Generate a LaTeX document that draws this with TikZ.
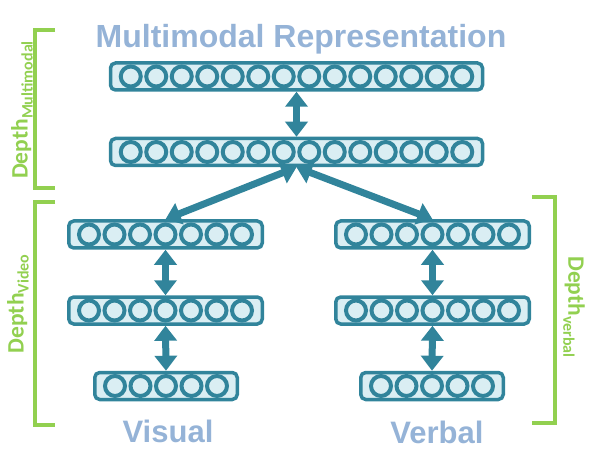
\documentclass[tikz,border=0pt]{standalone}
\usepackage{fontspec}
\setmainfont{Liberation Sans}
\newfontfamily\calfont{Carlito}
\usetikzlibrary{arrows.meta}
\definecolor{tealc}{RGB}{49,132,155}
\definecolor{fillc}{RGB}{218,238,243}
\definecolor{titlec}{RGB}{149,179,215}
\definecolor{greenc}{RGB}{146,208,80}
\tikzset{
  layerbox/.style={draw=tealc, fill=fillc, line width=3.5pt, rounded corners=5pt, minimum height=27pt, inner sep=0pt},
  unitc/.style={draw=tealc, fill=fillc, line width=4pt, circle, minimum size=20pt, inner sep=0pt},
  biarrow/.style={draw=tealc, line width=7pt, {Triangle[length=15pt,width=22pt]}-{Triangle[length=15pt,width=22pt]}},
  bracketline/.style={draw=greenc, line width=4.5pt},
  titletext/.style={font=\fontsize{31}{31}\selectfont\bfseries, text=titlec, inner sep=0pt},
  depthlab/.style={text=greenc, font=\calfont\bfseries, inner sep=0pt},
}
\newcommand\mklayer[4]{%
  \node[layerbox, minimum width={#4*25.5+15}] (#1) at (#2,#3) {};
  \foreach \i in {1,...,#4} {\node[unitc] (#1-\i) at ({#2-(#4)*12.75+(\i-0.5)*25.5},#3) {};}
}
\newcommand\depthtext[1]{\fontsize{23.5}{23.5}\selectfont Depth\raisebox{-5pt}{\fontsize{16}{16}\selectfont #1}}
\begin{document}
\begin{tikzpicture}[x=1pt,y=-1pt]
\useasboundingbox (0,0) rectangle (589,465);
% layers
\mklayer{M1}{296.5}{76.5}{14}
\mklayer{M2}{296.5}{152}{14}
\mklayer{V1}{165.5}{234.5}{7}
\mklayer{V2}{165.5}{310.5}{7}
\mklayer{V3}{166}{386}{5}
\mklayer{B1}{432.5}{234.5}{7}
\mklayer{B2}{432.5}{310.5}{7}
\mklayer{B3}{432}{386}{5}
% arrows
\draw[biarrow] (M1.south) -- (M2.north);
\draw[biarrow] (M2.south) -- (V1.north);
\draw[biarrow] (M2.south) -- (B1.north);
\draw[biarrow] (V1.south) -- (V2.north);
\draw[biarrow] (V2.south) -- (V3.north);
\draw[biarrow] (B1.south) -- (B2.north);
\draw[biarrow] (B2.south) -- (B3.north);
% titles
\node[titletext, anchor=base, font=\fontsize{32}{32}\selectfont\bfseries] (ttl) at (301,48) {Multimodal Representation};
\node[titletext, anchor=base] (vis) at (168,442) {Visual};
\node[titletext, anchor=base] (verb) at (437,443) {Verbal};
% brackets
\draw[bracketline] (55,30) -- (35,30) -- (35,188) -- (55,188);
\draw[bracketline] (55,202) -- (35,202) -- (35,425) -- (55,425);
\draw[bracketline] (532,197) -- (555,197) -- (555,423) -- (532,423);
% depth labels
\node[depthlab, rotate=90] (dm) at (22,110) {\depthtext{Multimodal}};
\node[depthlab, rotate=90] (dv) at (18,304) {\depthtext{Video}};
\node[depthlab, rotate=-90] (db) at (574,307) {\depthtext{verbal}};
\end{tikzpicture}
\end{document}
